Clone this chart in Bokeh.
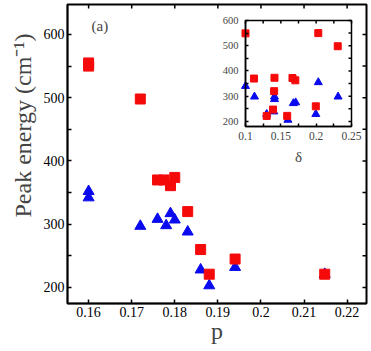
from bokeh.plotting import figure
from bokeh.models import FixedTicker, LinearAxis, Range1d, Title, Label
from bokeh.embed import file_html
from bokeh.resources import INLINE

# ---------------- data ----------------
# main panel: peak energy vs hole doping p
p_sq = [0.160, 0.160, 0.172, 0.176, 0.1775, 0.179, 0.180, 0.183, 0.186, 0.188, 0.194, 0.2148]
E_sq = [555, 550, 498, 370, 370, 361, 374, 320, 260, 221, 245, 221]
p_tri = [0.160, 0.160, 0.172, 0.176, 0.178, 0.179, 0.180, 0.183, 0.186, 0.188, 0.194, 0.2148]
E_tri = [352, 342, 297, 308, 298, 317, 307, 288, 228, 203, 232, 221]

# inset: peak energy vs delta
d_sq = [0.100, 0.112, 0.130, 0.139, 0.1405, 0.141, 0.159, 0.1665, 0.1705, 0.1995, 0.203, 0.2305]
E_sq_in = [549, 370, 222, 247, 320, 373, 222, 372, 363, 260, 550, 498]
d_tri = [0.100, 0.1127, 0.130, 0.140, 0.141, 0.141, 0.160, 0.1677, 0.171, 0.1995, 0.203, 0.231]
E_tri_in = [340, 298, 229, 239, 288, 298, 206, 272, 275, 229, 355, 298]

x_ticks = [0.16, 0.17, 0.18, 0.19, 0.20, 0.21, 0.22]
x_tick_labels = ["0.16", "0.17", "0.18", "0.19", "0.2", "0.21", "0.22"]
y_ticks = [200, 300, 400, 500, 600]
y_minor = [250, 350, 450, 550]

xi_ticks = [0.10, 0.15, 0.20, 0.25]
xi_tick_labels = ["0.1", "0.15", "0.2", "0.25"]
xi_minor = [0.125, 0.175, 0.225]
yi_ticks = [200, 300, 400, 500, 600]
yi_minor = [250, 350, 450, 550]

x_lim = (0.1551, 0.2245)
y_lim = (174.7, 647.4)
xi_lim = (0.10, 0.25)
yi_lim = (180.0, 600.0)

FONT = "Liberation Serif"
RED = "#f50a0a"
BLUE = "#0a0aee"
LW = 1.5

# ---------------- layout constants (pixels, relative to the figure) ----------------
W, H = 370, 350
FL, FR, FT, FB = 67, 366, 4, 303      # main frame box
IL, IR, IT, IB = 245, 351, 20, 126    # inset frame box

# main-frame pixel scales
mx = (x_lim[1] - x_lim[0]) / (FR - FL)
my = (y_lim[1] - y_lim[0]) / (FB - FT)
# inset mapped onto the main frame through extra ranges
sx = (xi_lim[1] - xi_lim[0]) / (IR - IL)
sy = (yi_lim[1] - yi_lim[0]) / (IB - IT)
ix = Range1d(xi_lim[0] - (IL - FL) * sx, xi_lim[1] + (FR - IR) * sx)
iy = Range1d(yi_lim[0] - (FB - IB) * sy, yi_lim[1] + (IT - FT) * sy)

p = figure(width=W, height=H, x_range=Range1d(*x_lim), y_range=Range1d(*y_lim),
           output_backend="svg", toolbar_location=None,
           min_border_left=FL, min_border_right=W - FR,
           min_border_top=FT, min_border_bottom=H - FB)
p.extra_x_ranges = {"ix": ix}
p.extra_y_ranges = {"iy": iy}
p.xgrid.grid_line_color = None
p.ygrid.grid_line_color = None
p.outline_line_color = "#000000"
p.outline_line_width = 2

xt = FixedTicker(ticks=x_ticks, minor_ticks=[])
yt = FixedTicker(ticks=y_ticks, minor_ticks=y_minor)
p.xaxis.ticker = xt
p.yaxis.ticker = yt
p.xaxis.major_label_overrides = {t: l for t, l in zip(x_ticks, x_tick_labels)}

for ax in (p.xaxis[0], p.yaxis[0]):
    ax.major_tick_in = 4
    ax.major_tick_out = 0
    ax.minor_tick_in = 4
    ax.minor_tick_out = 0
    ax.major_label_text_font = FONT
    ax.major_label_text_font_size = "14px"
    ax.major_label_text_color = "black"
    ax.major_label_standoff = 3
    ax.axis_line_color = "#000000"
    ax.axis_line_width = LW
    ax.major_tick_line_color = "#000000"
    ax.minor_tick_line_color = "#000000"
    ax.major_tick_line_width = LW
    ax.minor_tick_line_width = LW

p.xaxis.axis_label = "p"
p.xaxis.axis_label_text_font = FONT
p.xaxis.axis_label_text_font_size = "24px"
p.xaxis.axis_label_text_font_style = "normal"
p.xaxis.axis_label_standoff = -2

ylab = Title(text="Peak energy (cm⁻¹)", text_font=FONT, text_font_size="24px",
             text_font_style="normal", align="left", offset=86)
p.add_layout(ylab, "left")

# mirrored inward ticks on top and right edges of the main frame
tk = 4
p.segment(x0=x_ticks, y0=[y_lim[1]] * len(x_ticks), x1=x_ticks,
          y1=[y_lim[1] - tk * my] * len(x_ticks), line_color="#000000", line_width=LW)
yy = y_ticks + y_minor
p.segment(x0=[x_lim[1]] * len(yy), y0=yy, x1=[x_lim[1] - tk * mx] * len(yy), y1=yy,
          line_color="#000000", line_width=LW)

p.scatter(p_tri, E_tri, marker="triangle", size=11, fill_color=BLUE, line_color=BLUE)
p.scatter(p_sq, E_sq, marker="square", size=10, fill_color=RED, line_color=RED)

p.add_layout(Label(x=0.1626, y=613, text="(a)", text_font=FONT, text_font_size="15px",
                   text_align="center", text_baseline="middle"))

# ---------------- inset ----------------
p.quad(left=[xi_lim[0]], right=[xi_lim[1]], bottom=[yi_lim[0]], top=[yi_lim[1]],
       x_range_name="ix", y_range_name="iy", fill_color="white", line_color="#000000",
       line_width=LW)

xit = FixedTicker(ticks=xi_ticks, minor_ticks=xi_minor)
yit = FixedTicker(ticks=yi_ticks, minor_ticks=yi_minor)
ib = LinearAxis(x_range_name="ix", y_range_name="iy", fixed_location=yi_lim[0],
                bounds=xi_lim, ticker=xit, axis_label="δ")
ib.major_label_overrides = {t: l for t, l in zip(xi_ticks, xi_tick_labels)}
il = LinearAxis(x_range_name="ix", y_range_name="iy", fixed_location=xi_lim[0],
                bounds=yi_lim, ticker=yit)
for ax in (ib, il):
    ax.major_tick_in = 3
    ax.major_tick_out = 0
    ax.minor_tick_in = 3
    ax.minor_tick_out = 0
    ax.major_label_text_font = FONT
    ax.axis_line_color = "#000000"
    ax.axis_line_width = LW
    ax.major_tick_line_color = "#000000"
    ax.minor_tick_line_color = "#000000"
    ax.major_tick_line_width = LW
    ax.minor_tick_line_width = LW
ib.major_label_text_font_size = "11.5px"
ib.major_label_standoff = 5
il.major_label_text_font_size = "10.5px"
il.major_label_standoff = 7
ib.axis_label_text_font = FONT
ib.axis_label_text_font_size = "15px"
ib.axis_label_text_font_style = "normal"
ib.axis_label_standoff = 6
p.add_layout(ib, "below")
p.add_layout(il, "left")

ti = 3
xa = xi_ticks + xi_minor
p.segment(x0=xa, y0=[yi_lim[1]] * len(xa), x1=xa, y1=[yi_lim[1] - ti * sy] * len(xa),
          x_range_name="ix", y_range_name="iy", line_color="#000000", line_width=LW)
ya = yi_ticks + yi_minor
p.segment(x0=[xi_lim[1]] * len(ya), y0=ya, x1=[xi_lim[1] - ti * sx] * len(ya), y1=ya,
          x_range_name="ix", y_range_name="iy", line_color="#000000", line_width=LW)

p.scatter(d_tri, E_tri_in, marker="triangle", size=8, fill_color=BLUE, line_color=BLUE,
          x_range_name="ix", y_range_name="iy")
p.scatter(d_sq, E_sq_in, marker="square", size=7, fill_color=RED, line_color=RED,
          x_range_name="ix", y_range_name="iy")

open("out.html", "w").write(file_html(p, INLINE))
